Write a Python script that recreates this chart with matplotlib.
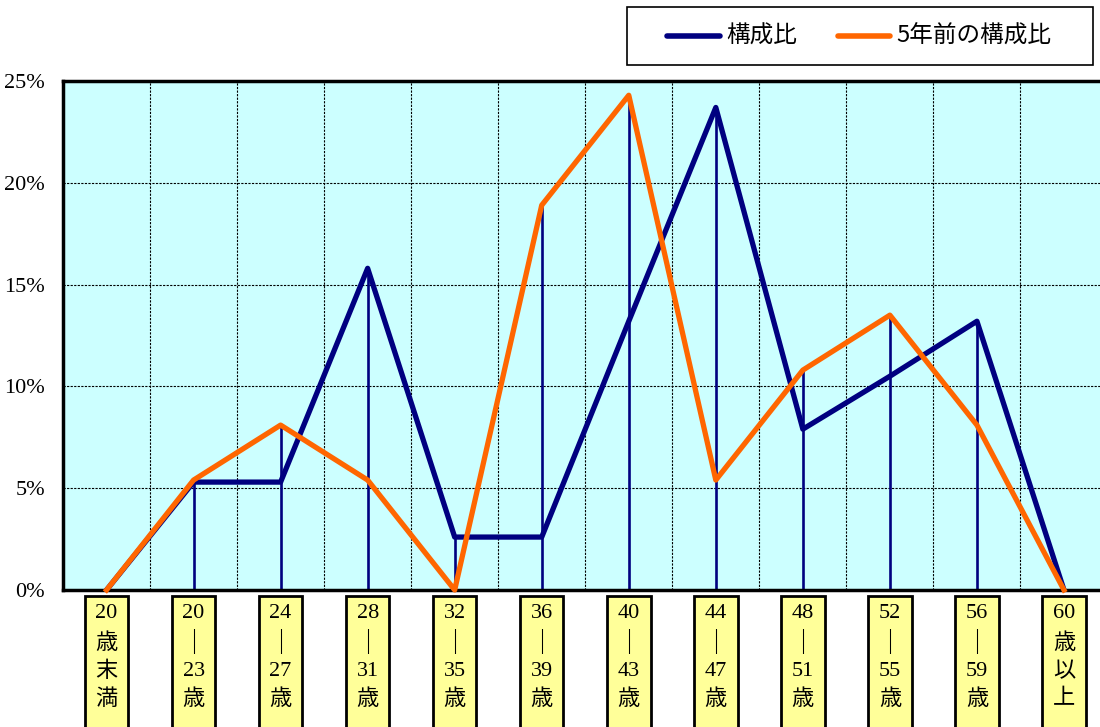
import matplotlib
matplotlib.use("Agg")
import matplotlib.pyplot as plt
from matplotlib.patches import Rectangle
from matplotlib.lines import Line2D
import matplotlib.transforms as mtransforms

categories = [
    ["20", "歳", "末", "満"],
    ["20", "｜", "23", "歳"],
    ["24", "｜", "27", "歳"],
    ["28", "｜", "31", "歳"],
    ["32", "｜", "35", "歳"],
    ["36", "｜", "39", "歳"],
    ["40", "｜", "43", "歳"],
    ["44", "｜", "47", "歳"],
    ["48", "｜", "51", "歳"],
    ["52", "｜", "55", "歳"],
    ["56", "｜", "59", "歳"],
    ["60", "歳", "以", "上"],
]
current = [0.0, 5.3, 5.3, 15.8, 2.6, 2.6, 13.2, 23.7, 7.9, 10.5, 13.2, 0.0]
five_years_ago = [0.0, 5.4, 8.1, 5.4, 0.0, 18.9, 24.3, 5.4, 10.8, 13.5, 8.1, 0.0]
yticks = [0, 5, 10, 15, 20, 25]
series_names = ["構成比", "5年前の構成比"]

NAVY = "#000080"
ORANGE = "#FF6600"
W, H = 1100, 727
fig = plt.figure(figsize=(W / 100, H / 100), dpi=100)

left, right, top, bottom = 63, 1107.5, 81, 590
ax = fig.add_axes([left / W, 1 - bottom / H, (right - left) / W, (bottom - top) / H])
ax.set_facecolor("#CCFFFF")
n = len(categories)
x = list(range(n))
ax.set_xlim(-0.5, n - 0.5)
ax.set_ylim(0, 25)

# grid
for gx in [i + 0.5 for i in range(n - 1)]:
    ax.axvline(gx, color="black", lw=0.8, ls=(0, (2, 1.2)), zorder=1)
for gy in yticks[1:-1]:
    ax.axhline(gy, color="black", lw=0.8, ls=(0, (2, 1.2)), zorder=1)

# drop lines
for xi, a, b in zip(x, current, five_years_ago):
    m = max(a, b)
    if m > 0:
        ax.plot([xi, xi], [0, m], color=NAVY, lw=1.9, zorder=2, solid_capstyle="butt")

ax.plot(x, current, color=NAVY, lw=3.8, zorder=3, solid_joinstyle="round")
ax.plot(x, five_years_ago, color=ORANGE, lw=3.8, zorder=4, solid_joinstyle="round", clip_on=False)

for s in ["left", "top", "bottom"]:
    ax.spines[s].set_linewidth(2.5)
    ax.spines[s].set_color("black")
ax.spines["right"].set_visible(False)

ax.set_xticks([])
ax.set_yticks(yticks)
ax.set_yticklabels([f"{v}%" for v in yticks], family=["Liberation Serif", "Noto Sans CJK JP"], fontsize=16)
ax.tick_params(axis="y", length=0, pad=13)

# category label boxes
trans = mtransforms.blended_transform_factory(ax.transData, fig.transFigure)
box_top = 1 - 596 / H
box_w = 0.5
line_y = [613, 644, 672, 700]
for xi, lines in zip(x, categories):
    r = Rectangle((xi - box_w / 2, -0.05), box_w, box_top + 0.05, transform=trans,
                  facecolor="#FFFF99", edgecolor="black", lw=2, clip_on=False, zorder=5)
    fig.add_artist(r)
    for ly, t in zip(line_y, lines):
        fs = 16 if t != "｜" else 18
        fig.text(xi, 1 - ly / H, t, transform=trans, ha="center", va="center",
                 fontsize=fs, family=["Liberation Serif", "Noto Sans CJK JP"], zorder=6)

# legend box
lx0, ly0, lx1, ly1 = 627, 7, 1093, 65
fig.add_artist(Rectangle((lx0 / W, 1 - ly1 / H), (lx1 - lx0) / W, (ly1 - ly0) / H,
                         transform=fig.transFigure, facecolor="white", edgecolor="black", lw=1.2))
ly = 1 - 36 / H
fig.add_artist(Line2D([667 / W, 720 / W], [ly, ly], transform=fig.transFigure, color=NAVY, lw=4, solid_capstyle="round"))
fig.text(726 / W, ly, series_names[0], ha="left", va="center", fontsize=17, family=["Noto Sans CJK JP"])
fig.add_artist(Line2D([838 / W, 890 / W], [ly, ly], transform=fig.transFigure, color=ORANGE, lw=4, solid_capstyle="round"))
fig.text(896 / W, ly, series_names[1], ha="left", va="center", fontsize=17, family=["Noto Sans CJK JP"])

fig.savefig("out.png", dpi=100)
